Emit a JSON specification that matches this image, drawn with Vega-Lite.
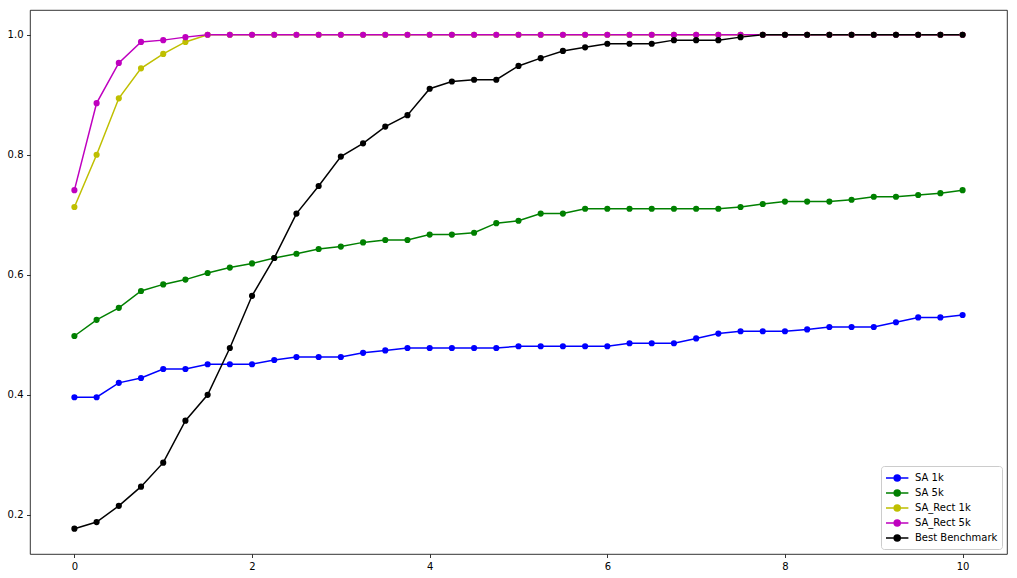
{
  "$schema": "https://vega.github.io/schema/vega-lite/v6.json",
  "width": 977,
  "height": 544,
  "autosize": "none",
  "padding": {"left": 30, "top": 10, "right": 10, "bottom": 24},
  "background": "white",
  "config": {
    "view": {"stroke": "#000000", "strokeWidth": 0.8},
    "font": "DejaVu Sans",
    "axis": {
      "domain": false,
      "grid": false,
      "tickColor": "#000000",
      "tickSize": 3.5,
      "tickWidth": 0.8,
      "labelFont": "DejaVu Sans",
      "labelFontSize": 10,
      "labelColor": "#000000",
      "labelPadding": 3.5,
      "title": null
    },
    "legend": {
      "orient": "bottom-right",
      "offset": 5,
      "fillColor": "white",
      "strokeColor": "#cccccc",
      "strokeWidth": 1,
      "cornerRadius": 3,
      "padding": 4,
      "labelFont": "DejaVu Sans",
      "labelFontSize": 10,
      "labelColor": "#000000",
      "rowPadding": 0,
      "symbolType": "M-1,0L2.2,0M0.17,0A0.43,0.43,0,1,1,1.03,0A0.43,0.43,0,1,1,0.17,0Z",
      "symbolSize": 196,
      "symbolStrokeWidth": 1.5,
      "labelOffset": 14
    }
  },
  "data": {
    "values": [
      {"x": 0, "SA 1k": 0.396, "SA 5k": 0.498, "SA_Rect 1k": 0.713, "SA_Rect 5k": 0.741, "Best Benchmark": 0.177},
      {"x": 0.25, "SA 1k": 0.396, "SA 5k": 0.525, "SA_Rect 1k": 0.8, "SA_Rect 5k": 0.886, "Best Benchmark": 0.188},
      {"x": 0.5, "SA 1k": 0.42, "SA 5k": 0.545, "SA_Rect 1k": 0.894, "SA_Rect 5k": 0.953, "Best Benchmark": 0.215},
      {"x": 0.75, "SA 1k": 0.428, "SA 5k": 0.573, "SA_Rect 1k": 0.944, "SA_Rect 5k": 0.988, "Best Benchmark": 0.247},
      {"x": 1, "SA 1k": 0.443, "SA 5k": 0.584, "SA_Rect 1k": 0.968, "SA_Rect 5k": 0.991, "Best Benchmark": 0.287},
      {"x": 1.25, "SA 1k": 0.443, "SA 5k": 0.592, "SA_Rect 1k": 0.988, "SA_Rect 5k": 0.996, "Best Benchmark": 0.357},
      {"x": 1.5, "SA 1k": 0.451, "SA 5k": 0.603, "SA_Rect 1k": 1.0, "SA_Rect 5k": 1.0, "Best Benchmark": 0.4},
      {"x": 1.75, "SA 1k": 0.451, "SA 5k": 0.612, "SA_Rect 1k": 1.0, "SA_Rect 5k": 1.0, "Best Benchmark": 0.478},
      {"x": 2, "SA 1k": 0.451, "SA 5k": 0.619, "SA_Rect 1k": 1.0, "SA_Rect 5k": 1.0, "Best Benchmark": 0.565},
      {"x": 2.25, "SA 1k": 0.458, "SA 5k": 0.628, "SA_Rect 1k": 1.0, "SA_Rect 5k": 1.0, "Best Benchmark": 0.628},
      {"x": 2.5, "SA 1k": 0.463, "SA 5k": 0.635, "SA_Rect 1k": 1.0, "SA_Rect 5k": 1.0, "Best Benchmark": 0.702},
      {"x": 2.75, "SA 1k": 0.463, "SA 5k": 0.643, "SA_Rect 1k": 1.0, "SA_Rect 5k": 1.0, "Best Benchmark": 0.748},
      {"x": 3, "SA 1k": 0.463, "SA 5k": 0.647, "SA_Rect 1k": 1.0, "SA_Rect 5k": 1.0, "Best Benchmark": 0.797},
      {"x": 3.25, "SA 1k": 0.47, "SA 5k": 0.654, "SA_Rect 1k": 1.0, "SA_Rect 5k": 1.0, "Best Benchmark": 0.819},
      {"x": 3.5, "SA 1k": 0.474, "SA 5k": 0.658, "SA_Rect 1k": 1.0, "SA_Rect 5k": 1.0, "Best Benchmark": 0.847},
      {"x": 3.75, "SA 1k": 0.478, "SA 5k": 0.658, "SA_Rect 1k": 1.0, "SA_Rect 5k": 1.0, "Best Benchmark": 0.866},
      {"x": 4, "SA 1k": 0.478, "SA 5k": 0.667, "SA_Rect 1k": 1.0, "SA_Rect 5k": 1.0, "Best Benchmark": 0.91},
      {"x": 4.25, "SA 1k": 0.478, "SA 5k": 0.667, "SA_Rect 1k": 1.0, "SA_Rect 5k": 1.0, "Best Benchmark": 0.922},
      {"x": 4.5, "SA 1k": 0.478, "SA 5k": 0.67, "SA_Rect 1k": 1.0, "SA_Rect 5k": 1.0, "Best Benchmark": 0.925},
      {"x": 4.75, "SA 1k": 0.478, "SA 5k": 0.686, "SA_Rect 1k": 1.0, "SA_Rect 5k": 1.0, "Best Benchmark": 0.925},
      {"x": 5, "SA 1k": 0.481, "SA 5k": 0.69, "SA_Rect 1k": 1.0, "SA_Rect 5k": 1.0, "Best Benchmark": 0.948},
      {"x": 5.25, "SA 1k": 0.481, "SA 5k": 0.702, "SA_Rect 1k": 1.0, "SA_Rect 5k": 1.0, "Best Benchmark": 0.961},
      {"x": 5.5, "SA 1k": 0.481, "SA 5k": 0.702, "SA_Rect 1k": 1.0, "SA_Rect 5k": 1.0, "Best Benchmark": 0.973},
      {"x": 5.75, "SA 1k": 0.481, "SA 5k": 0.71, "SA_Rect 1k": 1.0, "SA_Rect 5k": 1.0, "Best Benchmark": 0.979},
      {"x": 6, "SA 1k": 0.481, "SA 5k": 0.71, "SA_Rect 1k": 1.0, "SA_Rect 5k": 1.0, "Best Benchmark": 0.985},
      {"x": 6.25, "SA 1k": 0.486, "SA 5k": 0.71, "SA_Rect 1k": 1.0, "SA_Rect 5k": 1.0, "Best Benchmark": 0.985},
      {"x": 6.5, "SA 1k": 0.486, "SA 5k": 0.71, "SA_Rect 1k": 1.0, "SA_Rect 5k": 1.0, "Best Benchmark": 0.985},
      {"x": 6.75, "SA 1k": 0.486, "SA 5k": 0.71, "SA_Rect 1k": 1.0, "SA_Rect 5k": 1.0, "Best Benchmark": 0.991},
      {"x": 7, "SA 1k": 0.494, "SA 5k": 0.71, "SA_Rect 1k": 1.0, "SA_Rect 5k": 1.0, "Best Benchmark": 0.991},
      {"x": 7.25, "SA 1k": 0.502, "SA 5k": 0.71, "SA_Rect 1k": 1.0, "SA_Rect 5k": 1.0, "Best Benchmark": 0.991},
      {"x": 7.5, "SA 1k": 0.506, "SA 5k": 0.713, "SA_Rect 1k": 1.0, "SA_Rect 5k": 1.0, "Best Benchmark": 0.996},
      {"x": 7.75, "SA 1k": 0.506, "SA 5k": 0.718, "SA_Rect 1k": 1.0, "SA_Rect 5k": 1.0, "Best Benchmark": 1.0},
      {"x": 8, "SA 1k": 0.506, "SA 5k": 0.722, "SA_Rect 1k": 1.0, "SA_Rect 5k": 1.0, "Best Benchmark": 1.0},
      {"x": 8.25, "SA 1k": 0.509, "SA 5k": 0.722, "SA_Rect 1k": 1.0, "SA_Rect 5k": 1.0, "Best Benchmark": 1.0},
      {"x": 8.5, "SA 1k": 0.513, "SA 5k": 0.722, "SA_Rect 1k": 1.0, "SA_Rect 5k": 1.0, "Best Benchmark": 1.0},
      {"x": 8.75, "SA 1k": 0.513, "SA 5k": 0.725, "SA_Rect 1k": 1.0, "SA_Rect 5k": 1.0, "Best Benchmark": 1.0},
      {"x": 9, "SA 1k": 0.513, "SA 5k": 0.73, "SA_Rect 1k": 1.0, "SA_Rect 5k": 1.0, "Best Benchmark": 1.0},
      {"x": 9.25, "SA 1k": 0.521, "SA 5k": 0.73, "SA_Rect 1k": 1.0, "SA_Rect 5k": 1.0, "Best Benchmark": 1.0},
      {"x": 9.5, "SA 1k": 0.529, "SA 5k": 0.733, "SA_Rect 1k": 1.0, "SA_Rect 5k": 1.0, "Best Benchmark": 1.0},
      {"x": 9.75, "SA 1k": 0.529, "SA 5k": 0.736, "SA_Rect 1k": 1.0, "SA_Rect 5k": 1.0, "Best Benchmark": 1.0},
      {"x": 10, "SA 1k": 0.533, "SA 5k": 0.741, "SA_Rect 1k": 1.0, "SA_Rect 5k": 1.0, "Best Benchmark": 1.0}
    ]
  },
  "transform": [
    {"fold": ["SA 1k", "SA 5k", "SA_Rect 1k", "SA_Rect 5k", "Best Benchmark"], "as": ["series", "value"]}
  ],
  "encoding": {
    "x": {
      "field": "x", "type": "quantitative",
      "scale": {"domain": [-0.5, 10.5], "nice": false, "zero": false},
      "axis": {"values": [0, 2, 4, 6, 8, 10], "format": "d"}
    },
    "y": {
      "field": "value", "type": "quantitative",
      "scale": {"domain": [0.1348, 1.0412], "nice": false, "zero": false},
      "axis": {"values": [0.2, 0.4, 0.6, 0.8, 1.0], "format": ".1f"}
    },
    "color": {
      "field": "series", "type": "nominal",
      "scale": {
        "domain": ["SA 1k", "SA 5k", "SA_Rect 1k", "SA_Rect 5k", "Best Benchmark"],
        "range": ["#0000ff", "#008000", "#bfbf00", "#bf00bf", "#000000"]
      },
      "legend": {"title": null}
    }
  },
  "layer": [
    {"mark": {"type": "line", "strokeWidth": 1.5}},
    {"mark": {"type": "circle", "size": 38, "opacity": 1}}
  ]
}
